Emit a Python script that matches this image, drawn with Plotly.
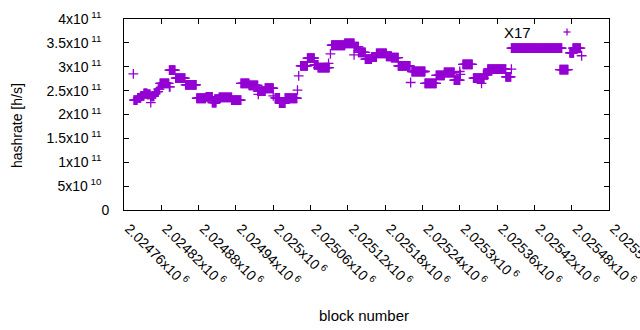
import plotly.graph_objects as go

# Runs of consecutive blocks sharing one hashrate value
run_start = [2024775, 2024776, 2024782, 2024787, 2024792, 2024797, 2024803, 2024804, 2024809, 2024812,
             2024815, 2024818, 2024833, 2024833, 2024843, 2024859, 2024877, 2024892, 2024902, 2024906,
             2024913, 2024933, 2024948, 2024961, 2024975, 2024976, 2024987, 2025000, 2025003, 2025010,
             2025019, 2025039, 2025041, 2025044, 2025055, 2025066, 2025072, 2025089, 2025092, 2025094,
             2025115, 2025130, 2025130, 2025137, 2025148, 2025158, 2025166, 2025182, 2025190, 2025201,
             2025221, 2025223, 2025244, 2025262, 2025275, 2025291, 2025300, 2025301, 2025305, 2025322,
             2025335, 2025338, 2025345, 2025374, 2025383, 2025383, 2025461, 2025477, 2025482, 2025496]
run_end = [2024775, 2024781, 2024787, 2024792, 2024797, 2024802, 2024803, 2024808, 2024811, 2024815,
           2024817, 2024832, 2024834, 2024842, 2024858, 2024876, 2024891, 2024902, 2024908, 2024913,
           2024933, 2024948, 2024961, 2024975, 2024987, 2024976, 2025000, 2025000, 2025010, 2025019,
           2025038, 2025039, 2025041, 2025055, 2025066, 2025072, 2025090, 2025089, 2025092, 2025115,
           2025130, 2025137, 2025130, 2025148, 2025158, 2025166, 2025182, 2025190, 2025201, 2025220,
           2025221, 2025244, 2025262, 2025275, 2025291, 2025300, 2025300, 2025301, 2025320, 2025339,
           2025335, 2025345, 2025374, 2025382, 2025383, 2025464, 2025474, 2025483, 2025494, 2025496]
run_value = [2.85e11, 2.30e11, 2.35e11, 2.39e11, 2.44e11, 2.42e11, 2.25e11, 2.38e11, 2.43e11, 2.48e11,
             2.53e11, 2.65e11, 2.58e11, 2.93e11, 2.76e11, 2.62e11, 2.34e11, 2.37e11, 2.25e11, 2.32e11,
             2.36e11, 2.30e11, 2.65e11, 2.61e11, 2.49e11, 2.42e11, 2.55e11, 2.39e11, 2.35e11, 2.24e11,
             2.34e11, 2.51e11, 2.81e11, 3.02e11, 3.18e11, 3.04e11, 2.98e11, 3.07e11, 3.27e11, 3.45e11,
             3.49e11, 3.42e11, 3.25e11, 3.30e11, 3.16e11, 3.20e11, 3.28e11, 3.22e11, 3.19e11, 3.02e11,
             2.67e11, 2.90e11, 2.65e11, 2.82e11, 2.88e11, 2.72e11, 2.90e11, 2.84e11, 3.05e11, 2.76e11,
             2.65e11, 2.83e11, 2.95e11, 2.79e11, 2.95e11, 3.39e11, 2.94e11, 3.29e11, 3.39e11, 3.23e11]

x_tickvals = [2024760, 2024820, 2024880, 2024940, 2025000, 2025060, 2025120,
              2025180, 2025240, 2025300, 2025360, 2025420, 2025480, 2025540]
x_ticktext = ["2.02476x10<sup> 6</sup>", "2.02482x10<sup> 6</sup>", "2.02488x10<sup> 6</sup>",
              "2.02494x10<sup> 6</sup>", "2.025x10<sup> 6</sup>", "2.02506x10<sup> 6</sup>",
              "2.02512x10<sup> 6</sup>", "2.02518x10<sup> 6</sup>", "2.02524x10<sup> 6</sup>",
              "2.0253x10<sup> 6</sup>", "2.02536x10<sup> 6</sup>", "2.02542x10<sup> 6</sup>",
              "2.02548x10<sup> 6</sup>", "2.02554x10<sup> 6</sup>"]
y_tickvals = [0, 5e10, 1e11, 1.5e11, 2e11, 2.5e11, 3e11, 3.5e11, 4e11]
y_ticktext = ["0", "5x10<sup> 10</sup>&nbsp;&nbsp;", "1x10<sup> 11</sup>&nbsp;&nbsp;",
              "1.5x10<sup> 11</sup>&nbsp;&nbsp;", "2x10<sup> 11</sup>&nbsp;&nbsp;",
              "2.5x10<sup> 11</sup>&nbsp;&nbsp;", "3x10<sup> 11</sup>&nbsp;&nbsp;",
              "3.5x10<sup> 11</sup>&nbsp;&nbsp;", "4x10<sup> 11</sup>&nbsp;&nbsp;"]

series_name = "X17"
color = "#9400D3"

xs, ys = [], []
for s, e, v in zip(run_start, run_end, run_value):
    for b in range(s, e + 1):
        xs.append(b)
        ys.append(v)

fig = go.Figure()
fig.add_trace(go.Scatter(
    x=xs, y=ys, mode="markers", name=series_name, showlegend=False, hoverinfo="skip",
    marker=dict(symbol="cross-thin", size=7, color=color, line=dict(color=color, width=1.3)),
))

FONT = "Liberation Sans, Arial, sans-serif"
axis_common = dict(showline=True, linecolor="black", linewidth=1, mirror="allticks",
                   ticks="inside", ticklen=5, tickcolor="black", tickwidth=1,
                   showgrid=False, zeroline=False, automargin=False, ticklabeloverflow="allow",
                   tickfont=dict(family=FONT, size=14, color="black"))

fig.update_layout(
    width=640, height=330,
    margin=dict(l=124, r=31, t=19, b=120),
    paper_bgcolor="white", plot_bgcolor="white",
    xaxis=dict(range=[2024760, 2025540], tickmode="array", tickvals=x_tickvals,
               ticktext=x_ticktext, tickangle=45, ticklabelstandoff=4, ticklabelshift=5, **axis_common),
    yaxis=dict(range=[0, 4e11], tickmode="array", tickvals=y_tickvals,
               ticktext=y_ticktext, ticklabelstandoff=11, **axis_common),
    font=dict(family=FONT, size=14, color="black"),
    annotations=[
        dict(text="hashrate [h/s]", xref="paper", yref="paper", x=-124 / 485 + 17 / 485, y=(210 - 126) / 191,
             showarrow=False, textangle=-90, font=dict(family=FONT, size=14), xanchor="center", yanchor="middle"),
        dict(text="block number", xref="paper", yref="paper", x=(364 - 124) / 485, y=-(315 - 210) / 191,
             showarrow=False, font=dict(family=FONT, size=15), xanchor="center", yanchor="middle"),
        dict(text=series_name, xref="paper", yref="paper", x=(533 - 124) / 485, y=(210 - 32) / 191,
             showarrow=False, font=dict(family=FONT, size=15), xanchor="right", yanchor="middle"),
    ],
    shapes=[
        dict(type="line", xref="paper", yref="paper", x0=(563.5 - 124) / 485, x1=(570.5 - 124) / 485,
             y0=(210 - 32) / 191, y1=(210 - 32) / 191, line=dict(color=color, width=1.3)),
        dict(type="line", xref="paper", yref="paper", x0=(567 - 124) / 485, x1=(567 - 124) / 485,
             y0=(210 - 28.5) / 191, y1=(210 - 35.5) / 191, line=dict(color=color, width=1.3)),
    ],
)

fig.write_html("out.html", config={"displayModeBar": False, "staticPlot": True},
               post_script="document.body.style.margin='0';document.body.style.overflow='hidden';")
